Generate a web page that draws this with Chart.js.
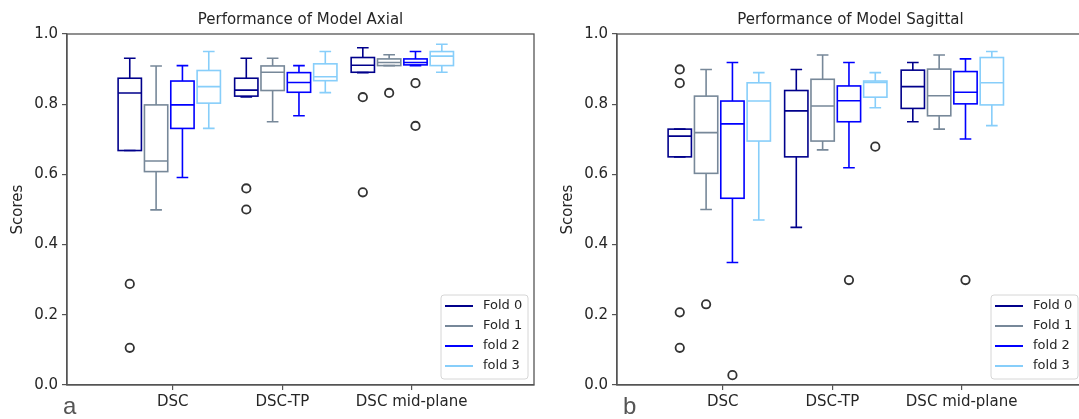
<!DOCTYPE html>
<html>
<head>
<meta charset="utf-8">
<script src="https://cdn.jsdelivr.net/npm/chart.js@4.4.1/dist/chart.umd.min.js"></script>
<style>
  body { margin: 0; background: #fff; width: 1079px; height: 419px; overflow: hidden; position: relative; }
  canvas { position: absolute; top: 0; }
  #axial { left: 0; }
  #sagittal { left: 550px; }
  .tag { position: absolute; font-family: 'Liberation Sans', sans-serif; font-size: 24px; color: #555; line-height: 1; }
</style>
</head>
<body>
<canvas id="axial" width="540" height="419"></canvas>
<canvas id="sagittal" width="540" height="419"></canvas>
<span class="tag" style="left:63px;top:394px">a</span>
<span class="tag" style="left:623px;top:394px">b</span>
<script>
const metrics = ['DSC', 'DSC-TP', 'DSC mid-plane'];
const foldNames = ['Fold 0', 'Fold 1', 'fold 2', 'fold 3'];
const tickPositions = [1.03, 1.97, 3.08];

// box stats per metric: [lower whisker, Q1, median, Q3, upper whisker]
const axialFold0 = [[0.668, 0.668, 0.832, 0.874, 0.931], [0.821, 0.823, 0.840, 0.874, 0.931], [0.890, 0.891, 0.911, 0.933, 0.961]];
const axialFold1 = [[0.499, 0.608, 0.638, 0.798, 0.909], [0.750, 0.839, 0.891, 0.909, 0.931], [0.910, 0.910, 0.919, 0.929, 0.941]];
const axialFold2 = [[0.591, 0.731, 0.798, 0.866, 0.910], [0.767, 0.834, 0.862, 0.890, 0.910], [0.910, 0.912, 0.919, 0.929, 0.950]];
const axialFold3 = [[0.731, 0.803, 0.850, 0.896, 0.950], [0.833, 0.867, 0.878, 0.915, 0.950], [0.891, 0.910, 0.937, 0.950, 0.971]];
// outliers per metric
const axialOut0 = [[0.288, 0.106], [0.560, 0.500], [0.820, 0.549]];
const axialOut1 = [[], [], [0.832]];
const axialOut2 = [[], [], [0.860, 0.738]];
const axialOut3 = [[], [], []];

const sagittalFold0 = [[0.650, 0.650, 0.709, 0.729, 0.729], [0.449, 0.650, 0.781, 0.839, 0.899], [0.750, 0.788, 0.850, 0.897, 0.919]];
const sagittalFold1 = [[0.500, 0.603, 0.719, 0.823, 0.899], [0.670, 0.695, 0.795, 0.871, 0.940], [0.729, 0.767, 0.824, 0.900, 0.940]];
const sagittalFold2 = [[0.349, 0.532, 0.744, 0.809, 0.919], [0.619, 0.750, 0.810, 0.852, 0.919], [0.701, 0.801, 0.834, 0.893, 0.929]];
const sagittalFold3 = [[0.470, 0.695, 0.809, 0.861, 0.890], [0.790, 0.820, 0.862, 0.866, 0.890], [0.739, 0.798, 0.861, 0.933, 0.950]];
const sagittalOut0 = [[0.899, 0.860, 0.207, 0.106], [], []];
const sagittalOut1 = [[0.230], [], []];
const sagittalOut2 = [[0.028], [0.299], [0.299]];
const sagittalOut3 = [[], [0.679], []];

const foldColors = ['#00008b', '#778899', '#0000ff', '#87cefa'];
const foldOffsets = [-0.339, -0.113, 0.113, 0.339];
const boxWidth = 0.2;
const FONT = "'DejaVu Sans', sans-serif";

// draws boxes, whiskers, frame, title and legend
const boxPlotPlugin = {
  id: 'boxPlot',
  beforeDatasetsDraw(chart) {
    const { ctx, scales: { x, y } } = chart;
    ctx.save();
    ctx.lineWidth = 1.6;
    chart.data.datasets.forEach((ds, f) => {
      ctx.strokeStyle = ds.borderColor;
      ds.boxStats.forEach((s, m) => {
        const pos = m + 1 + foldOffsets[f];
        const xc = x.getPixelForValue(pos);
        const half = (x.getPixelForValue(pos + boxWidth / 2) - x.getPixelForValue(pos - boxWidth / 2)) / 2;
        const cap = half / 2;
        const [lo, q1, med, q3, hi] = s.map(v => y.getPixelForValue(v));
        ctx.beginPath();
        ctx.moveTo(xc, q1); ctx.lineTo(xc, lo);
        ctx.moveTo(xc - cap, lo); ctx.lineTo(xc + cap, lo);
        ctx.moveTo(xc, q3); ctx.lineTo(xc, hi);
        ctx.moveTo(xc - cap, hi); ctx.lineTo(xc + cap, hi);
        ctx.moveTo(xc - half, med); ctx.lineTo(xc + half, med);
        ctx.stroke();
        ctx.strokeRect(xc - half, q3, half * 2, q1 - q3);
      });
    });
    ctx.restore();
  },
  afterDraw(chart) {
    const { ctx, chartArea: a } = chart;
    ctx.save();
    ctx.strokeStyle = '#555';
    ctx.lineWidth = 1.3;
    ctx.strokeRect(a.left, a.top, a.right - a.left, a.bottom - a.top);

    ctx.fillStyle = '#262626';
    ctx.font = '15px ' + FONT;
    ctx.textAlign = 'center';
    ctx.textBaseline = 'middle';
    ctx.fillText(chart.options.plugins.title.text, (a.left + a.right) / 2, 20);

    // legend, lower right inside the axes
    const lx = a.right - 93, ly = a.bottom - 90, lw = 87, lh = 84;
    ctx.fillStyle = 'rgba(255,255,255,0.8)';
    ctx.strokeStyle = '#d6d6d6';
    ctx.lineWidth = 1;
    ctx.beginPath();
    ctx.roundRect(lx, ly, lw, lh, 3);
    ctx.fill();
    ctx.stroke();
    ctx.font = '13px ' + FONT;
    ctx.textAlign = 'left';
    chart.data.datasets.forEach((ds, i) => {
      const yy = ly + 11 + i * 20;
      ctx.strokeStyle = ds.borderColor;
      ctx.lineWidth = 2;
      ctx.beginPath();
      ctx.moveTo(lx + 4, yy);
      ctx.lineTo(lx + 32, yy);
      ctx.stroke();
      ctx.fillStyle = '#262626';
      ctx.fillText(ds.label, lx + 42, yy);
    });
    ctx.restore();
  }
};

function makePanel(id, title, stats, outs) {
  const datasets = stats.map((s, f) => ({
    label: foldNames[f],
    boxStats: s,
    borderColor: foldColors[f],
    data: outs[f].flatMap((vals, m) => vals.map(v => ({ x: m + 1 + foldOffsets[f], y: v }))),
    pointRadius: 4.2,
    pointBorderWidth: 1.8,
    pointBorderColor: '#333',
    pointBackgroundColor: 'rgba(0,0,0,0)'
  }));

  return new Chart(document.getElementById(id), {
    type: 'scatter',
    data: { datasets },
    options: {
      responsive: false,
      animation: false,
      devicePixelRatio: 1,
      layout: { padding: { top: 34, right: 2, left: 0, bottom: 0 } },
      plugins: {
        legend: { display: false },
        tooltip: { enabled: false },
        title: { display: false, text: title }
      },
      scales: {
        x: {
          type: 'linear',
          min: 0.1224,
          max: 4.13,
          afterBuildTicks: axis => { axis.ticks = tickPositions.map(v => ({ value: v })); },
          afterFit: scale => { scale.height = 34; },
          ticks: {
            autoSkip: false,
            maxRotation: 0,
            padding: 3,
            color: '#262626',
            font: { size: 15, family: FONT },
            callback: (value, index) => metrics[index]
          },
          grid: { drawOnChartArea: false, tickLength: 5, color: '#555', lineWidth: 1.2 },
          border: { color: '#555', width: 1.3 }
        },
        y: {
          min: 0,
          max: 1,
          afterFit: scale => { scale.width = 67; },
          ticks: {
            stepSize: 0.2,
            padding: 4,
            color: '#262626',
            font: { size: 15, family: FONT },
            callback: value => value.toFixed(1)
          },
          title: {
            display: true,
            text: 'Scores',
            color: '#262626',
            font: { size: 15, family: FONT },
            padding: { top: 9 }
          },
          grid: { drawOnChartArea: false, tickLength: 5, color: '#555', lineWidth: 1.2 },
          border: { color: '#555', width: 1.3 }
        }
      }
    },
    plugins: [boxPlotPlugin]
  });
}

makePanel('axial', 'Performance of Model Axial',
  [axialFold0, axialFold1, axialFold2, axialFold3],
  [axialOut0, axialOut1, axialOut2, axialOut3]);
makePanel('sagittal', 'Performance of Model Sagittal',
  [sagittalFold0, sagittalFold1, sagittalFold2, sagittalFold3],
  [sagittalOut0, sagittalOut1, sagittalOut2, sagittalOut3]);
</script>
</body>
</html>
